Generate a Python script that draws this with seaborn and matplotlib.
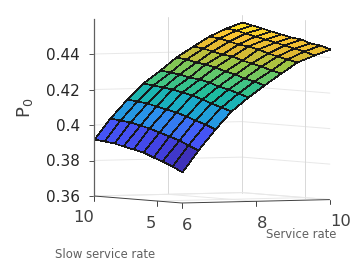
import numpy as np
import matplotlib
matplotlib.use('Agg')
import matplotlib.pyplot as plt
import seaborn as sns

# 축 값
slow_rates = [10, 9.22, 8.44, 7.67, 6.89, 6.11, 5.33, 4.56, 3.78, 3]
service_rates = [6, 6.44, 6.89, 7.33, 7.78, 8.22, 8.67, 9.11, 9.56, 10]
p0_rows = [
    [.3921, .3916, .3908, .3896, .3883, .3867, .3848, .3826, .3802, .3775],
    [.4038, .4032, .4023, .4012, .3999, .3983, .3964, .3944, .3922, .3896],
    [.4143, .4136, .4129, .4118, .4106, .4091, .4075, .4056, .4035, .4012],
    [.4231, .4225, .4216, .4207, .4196, .4182, .4167, .4150, .4131, .4111],
    [.4303, .4296, .4287, .4277, .4266, .4254, .4239, .4223, .4206, .4187],
    [.4374, .4365, .4355, .4344, .4332, .4318, .4304, .4287, .4271, .4252],
    [.4434, .4425, .4415, .4403, .4391, .4378, .4364, .4350, .4334, .4317],
    [.4488, .4479, .4467, .4456, .4445, .4433, .4419, .4406, .4393, .4377],
    [.4531, .4520, .4508, .4497, .4484, .4472, .4460, .4446, .4433, .4419],
    [.4563, .4551, .4538, .4526, .4513, .4501, .4489, .4476, .4464, .4451],
]
p0_ticks = [0.36, 0.38, 0.40, 0.42, 0.44]
p0_tick_labels = ['0.36', '0.38', '0.4', '0.42', '0.44']
slow_ticks = [10, 5]
service_ticks = [6, 8, 10]

P0_MIN = 0.36
P0_MAX = 0.46
PX_PER_P0 = 1775.0
parula = ['#3c2aa8', '#4240e0', '#4558fa', '#2a90ec', '#18aacc', '#1cbca0',
          '#50c878', '#98c846', '#e0b832', '#fac432', '#f8e81c']
text_color = '#404040'


# 사선 투영: 화면 x(픽셀)와 기울어진 P0 값으로 변환
def project(slow, service, p0):
    slow = np.asarray(slow, dtype=float)
    service = np.asarray(service, dtype=float)
    px = 94 + (10 - slow) * 12.55 + (service - 6) * 37.0
    tilt = ((10 - slow) * 1.0 - (service - 6) * 0.85) / PX_PER_P0
    return px, np.asarray(p0, dtype=float) - tilt


sns.set_theme(style='white')
plt.rcParams['font.family'] = ['DejaVu Sans']
fig = plt.figure(figsize=(3.6, 2.63), dpi=100)
ax = fig.add_axes([0, 0, 1, 1])
ax.patch.set_alpha(0)
ax.set_xlim(0, 360)
ax.set_ylim(P0_MIN - 67 / PX_PER_P0, P0_MIN + 196 / PX_PER_P0)

slow_lo, slow_hi = min(slow_rates), max(slow_rates)
svc_lo, svc_hi = min(service_rates), max(service_rates)

# 뒤쪽 벽 격자
grid_kw = dict(color='#e8e8e8', lw=0.7, zorder=1)
for z in p0_ticks:
    xs, ys = project([slow_hi, slow_hi, slow_lo], [svc_lo, svc_hi, svc_hi], [z, z, z])
    ax.plot(xs, ys, **grid_kw)
for slow, svc in [(slow_hi, 8), (slow_hi, svc_hi), (5, svc_hi)]:
    xs, ys = project([slow, slow], [svc, svc], [P0_MIN, P0_MAX])
    ax.plot(xs, ys, color='#d8d8d8', lw=0.7, zorder=1)

# 바닥 격자
for svc in [8, svc_hi]:
    xs, ys = project([slow_hi, slow_lo], [svc, svc], [P0_MIN, P0_MIN])
    ax.plot(xs, ys, **grid_kw)
for slow in [slow_hi, 5]:
    xs, ys = project([slow, slow], [svc_lo, svc_hi], [P0_MIN, P0_MIN])
    ax.plot(xs, ys, **grid_kw)

# 곡면
p0 = np.array(p0_rows)
slow_grid, svc_grid = np.meshgrid(slow_rates, service_rates)
sx, sy = project(slow_grid, svc_grid, p0)
cmap = sns.blend_palette(parula, as_cmap=True)
ax.pcolormesh(sx, sy, p0[:-1, :-1], cmap=cmap, vmin=p0.min(), vmax=p0.max(),
              shading='flat', edgecolors='#181818', linewidth=0.45, zorder=3)

# 바닥 축
xs, ys = project([slow_hi, slow_lo, slow_lo], [svc_lo, svc_lo, svc_hi], [P0_MIN] * 3)
ax.plot(xs, ys, color='#404040', lw=0.7, zorder=2, solid_capstyle='butt')
tick_len = 4.5 / PX_PER_P0
for slow in slow_ticks:
    xs, ys = project([slow, slow], [svc_lo, svc_lo], [P0_MIN, P0_MIN - tick_len])
    ax.plot(xs, ys, color='#404040', lw=0.7, zorder=2)
for svc in service_ticks:
    xs, ys = project([slow_lo, slow_lo], [svc, svc], [P0_MIN, P0_MIN - tick_len])
    ax.plot(xs, ys, color='#404040', lw=0.7, zorder=2)

# 세로 축
ax.set_xticks([])
ax.set_yticks(p0_ticks)
ax.set_yticklabels(p0_tick_labels, fontsize=12.2, color=text_color)
ax.tick_params(axis='y', direction='out', length=3.5, width=0.7, color='#505050', pad=6.5, left=True)
sns.despine(ax=ax, left=False, right=True, top=True, bottom=True)
ax.spines['left'].set_position(('data', 94))
ax.spines['left'].set_bounds(P0_MIN, P0_MAX)
ax.spines['left'].set_color('#606060')
ax.spines['left'].set_linewidth(0.9)
ax.spines['left'].set_zorder(5)


def fig_text(x, y, s, **kw):
    fig.text(x / 360, 1 - y / 263, s, ha='center', va='center', **kw)


fig_text(84, 218, '10', fontsize=11.8, color=text_color)
fig_text(151, 223, '5', fontsize=11.8, color=text_color)
fig_text(187, 225, '6', fontsize=11.8, color=text_color)
fig_text(262, 223, '8', fontsize=11.8, color=text_color)
fig_text(341, 221, '10', fontsize=11.8, color=text_color)
fig_text(105, 254, 'Slow service rate', fontsize=8.4, color='#606060')
fig_text(301, 234, 'Service rate', fontsize=8.4, color='#606060')
fig_text(25, 108, 'P$_{0}$', fontsize=13, color=text_color, rotation=90)

fig.savefig('out.png', dpi=100)
